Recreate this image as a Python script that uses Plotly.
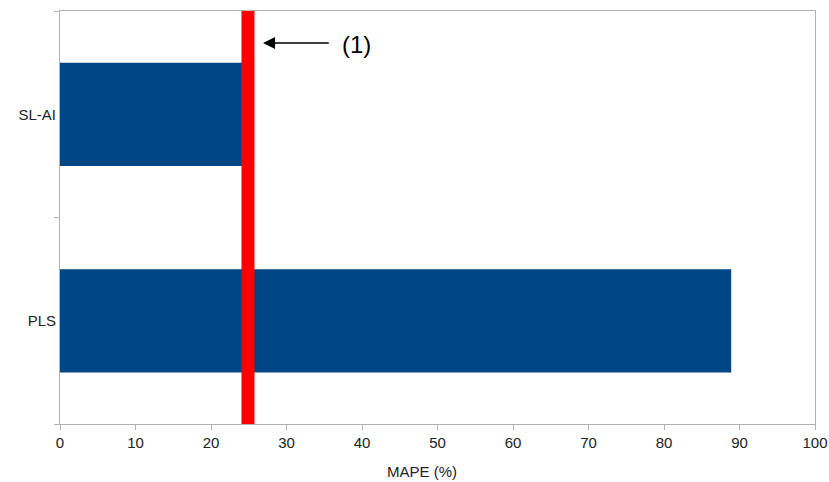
import plotly.graph_objects as go

categories = ["PLS", "SL-AI"]
mape = [88.9, 24.1]
reference_value = 24.9
x_ticks = [0, 10, 20, 30, 40, 50, 60, 70, 80, 90, 100]
x_title = "MAPE (%)"
marker_label = "(1)"

fig = go.Figure()
fig.add_trace(go.Bar(
    x=mape, y=categories, orientation="h",
    marker=dict(color="#004586", line=dict(width=0)),
    width=0.5, hoverinfo="x+y",
))

fig.add_shape(type="line", xref="x", yref="paper",
              x0=reference_value, x1=reference_value, y0=0, y1=1,
              line=dict(color="#ff0000", width=13), layer="above")

fig.add_annotation(x=26.9, y=0.9225, xref="x", yref="paper",
                   ax=35.8, ay=0, axref="x", ayref="pixel",
                   text="", showarrow=True, arrowhead=2, arrowsize=1.6,
                   arrowwidth=1.5, arrowcolor="#000000")
fig.add_annotation(x=39.3, y=0.918, xref="x", yref="paper",
                   text=marker_label, showarrow=False, yanchor="middle", xanchor="center",
                   font=dict(size=24, color="#000000", family="Liberation Sans, Arial, sans-serif"))
fig.add_annotation(x=47.9, y=-0.116, xref="x", yref="paper",
                   text=x_title, showarrow=False, yanchor="middle", xanchor="center",
                   font=dict(size=15, color="#222222", family="Liberation Sans, Arial, sans-serif"))

axis_line = "#b3b3b3"
fig.update_layout(
    width=829, height=482,
    margin=dict(l=60, r=14, t=11, b=58, autoexpand=False),
    paper_bgcolor="white", plot_bgcolor="white",
    showlegend=False,
    font=dict(family="Liberation Sans, Arial, sans-serif", size=15, color="#222222"),
    xaxis=dict(range=[0, 100], tickvals=x_ticks, showgrid=False, zeroline=False,
               showline=True, linecolor=axis_line, linewidth=1, mirror=True,
               ticks="outside", ticklen=5, tickcolor=axis_line, automargin=False),
    yaxis=dict(type="category", categoryorder="array", categoryarray=categories,
               showgrid=False, zeroline=False, tickson="boundaries",
               showline=True, linecolor=axis_line, linewidth=1, mirror=True,
               ticks="outside", ticklen=5, tickcolor=axis_line, automargin=False,
               range=[-0.5, 1.5]),
)

fig.write_html("out.html", config={"displayModeBar": False},
               post_script="document.body.style.margin='0';document.body.style.overflow='hidden';")
